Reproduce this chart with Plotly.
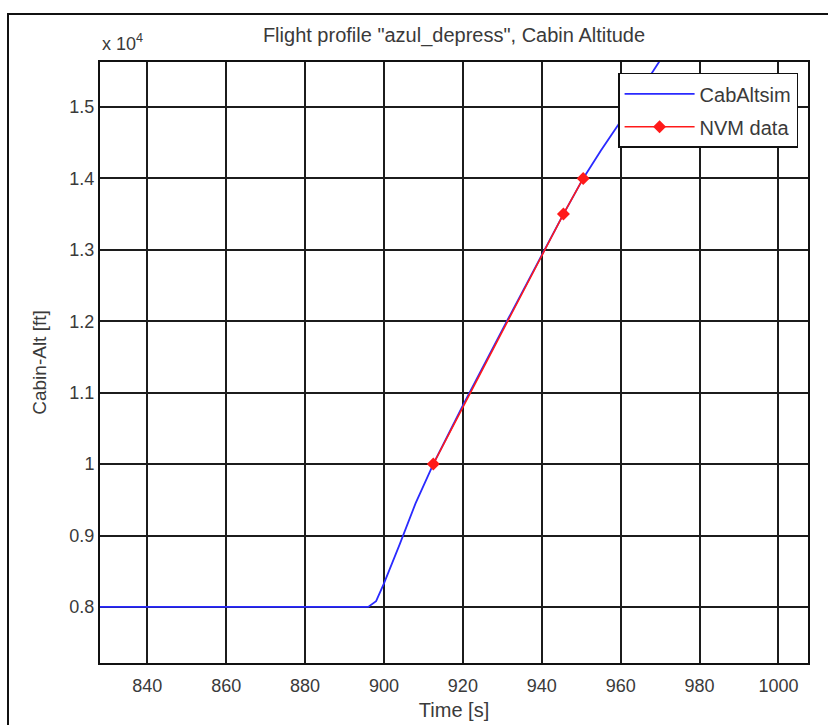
import plotly.graph_objects as go

# Simulated cabin altitude (CabAltsim)
sim_t = [828, 860, 880, 896, 898, 900, 904, 908, 912.5, 920, 930, 940, 945.5, 950.5, 955, 960, 970, 975]
sim_alt = [8000, 8000, 8000, 8000, 8080, 8330, 8880, 9450, 10000, 10820, 11880, 12930, 13500, 14000, 14390, 14800, 15660, 16080]

# Measured data (NVM data)
nvm_t = [912.5, 945.5, 950.5]
nvm_alt = [10000, 13500, 14000]

x_ticks = [840, 860, 880, 900, 920, 940, 960, 980, 1000]
y_ticks = [8000, 9000, 10000, 11000, 12000, 13000, 14000, 15000]
y_tick_text = ["0.8", "0.9", "1", "1.1", "1.2", "1.3", "1.4", "1.5"]

FONT = "Liberation Sans, Arial, sans-serif"
TXT = "#3a3a3a"
GRID = "#1c1c1c"

fig = go.Figure()
fig.add_trace(go.Scatter(x=sim_t, y=sim_alt, mode="lines", name="CabAltsim",
                         legendgroup="a",
                         line=dict(color="#2a2aff", width=1.8)))
fig.add_trace(go.Scatter(x=nvm_t, y=nvm_alt, mode="lines+markers", name="NVM data",
                         legendgroup="b",
                         line=dict(color="#ff1a1a", width=1.6),
                         marker=dict(symbol="diamond", size=10, color="#ff1a1a")))

fig.update_layout(
    width=828, height=725,
    margin=dict(l=100, r=20, t=62, b=62),
    paper_bgcolor="white", plot_bgcolor="white",
    font=dict(family=FONT, size=18, color=TXT),
    title=dict(text='Flight profile "azul_depress", Cabin Altitude', x=0.5, xref="paper",
               xanchor="center",
               y=1 - 35 / 725, yanchor="middle", font=dict(size=20, color=TXT)),
    showlegend=True,
    legend=dict(x=0.986, y=0.982, xanchor="right", yanchor="top",
                bgcolor="white", bordercolor="#111", borderwidth=1.5,
                font=dict(size=20, color=TXT), tracegroupgap=4, itemwidth=70),
    xaxis=dict(range=[828, 1007.5], tickvals=x_ticks, showgrid=True, automargin=False,
               gridcolor=GRID, gridwidth=1.8, zeroline=False,
               showline=True, linecolor="#111", linewidth=2, mirror=True,
               ticks="", ticklabelstandoff=5, tickfont=dict(size=18, color=TXT),
               title=dict(text="Time [s]", standoff=8, font=dict(size=20, color=TXT))),
    yaxis=dict(range=[7215, 15630], tickvals=y_ticks, ticktext=y_tick_text, showgrid=True,
               automargin=False,
               gridcolor=GRID, gridwidth=1.8, zeroline=False,
               showline=True, linecolor="#111", linewidth=2, mirror=True,
               ticks="", tickfont=dict(size=18, color=TXT),
               title=dict(text="Cabin-Alt [ft]", standoff=18, font=dict(size=19, color=TXT))),
)

fig.add_annotation(text="x 10<sup>4</sup>", xref="paper", yref="paper", x=0.0, y=1.0,
                   xanchor="left", yanchor="bottom", yshift=6, showarrow=False,
                   font=dict(size=18, color=TXT))

# outer figure frame
fig.add_shape(type="rect", xref="paper", yref="paper",
              x0=(8 - 100) / 708, x1=1.2, y0=-0.3, y1=1 + (62 - 14) / 601,
              line=dict(color="#111", width=2), layer="below")

fig.write_html("out.html")
